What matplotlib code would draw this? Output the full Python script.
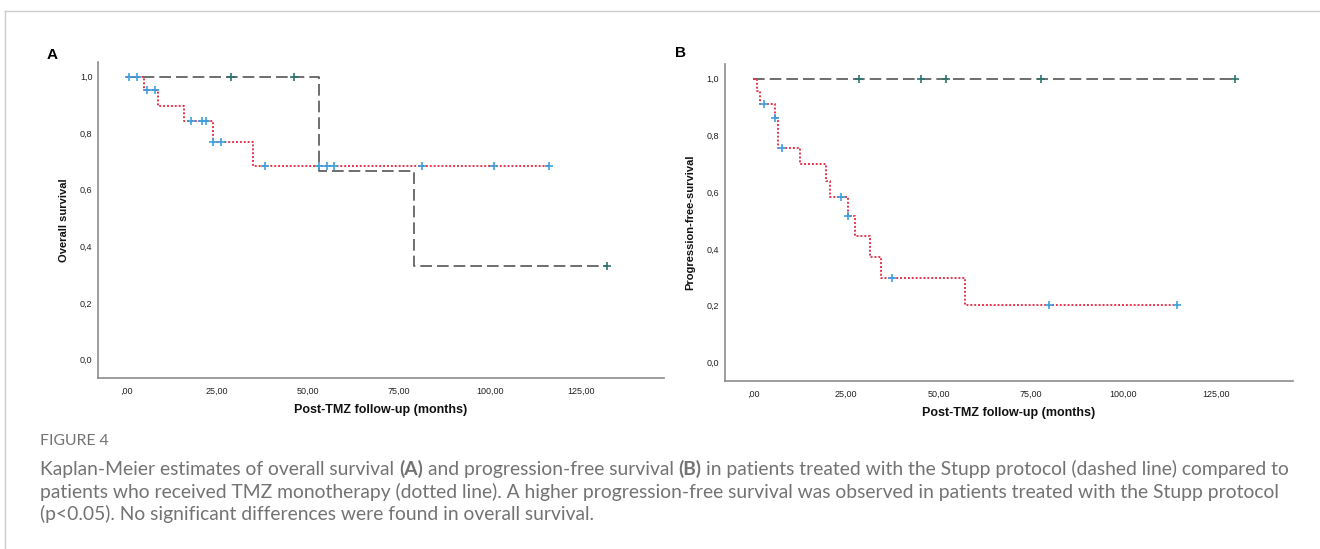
import numpy as np
import matplotlib
matplotlib.use('Agg')
import matplotlib.pyplot as plt
from matplotlib.lines import Line2D

# ---- data (months / cumulative survival) ----
# A: overall survival
os_tmz_times = [0, 4.9, 8.7, 15.9, 23.7, 34.9]
os_tmz_surv = [1.0, 0.953, 0.897, 0.842, 0.769, 0.684]
os_tmz_end = 116.3
os_tmz_cens = [0.8, 2.8, 5.8, 7.8, 17.9, 20.8, 21.8, 23.7, 25.9, 38.1,
               53.0, 55.1, 57.1, 81.2, 101.2, 116.3]

os_stupp_times = [0, 53.0, 79.2]
os_stupp_surv = [1.0, 0.666, 0.330]
os_stupp_end = 132.2
os_stupp_cens = [28.9, 46.1, 132.2]

# B: progression-free survival
pfs_tmz_times = [0, 0.9, 1.8, 5.9, 6.7, 12.6, 19.6, 20.6, 25.6, 27.5, 31.5, 34.4, 57.2]
pfs_tmz_surv = [1.0, 0.957, 0.910, 0.863, 0.756, 0.698, 0.641, 0.582,
                0.517, 0.444, 0.372, 0.298, 0.201]
pfs_tmz_end = 114.4
pfs_tmz_cens = [2.9, 5.9, 7.8, 23.6, 25.6, 37.4, 79.8, 114.4]

pfs_stupp_times = [0]
pfs_stupp_surv = [1.0]
pfs_stupp_end = 130.1
pfs_stupp_cens = [28.5, 45.2, 52.0, 77.6, 130.1]

x_ticks = [0, 25, 50, 75, 100, 125]
x_ticklabels = [',00', '25,00', '50,00', '75,00', '100,00', '125,00']
y_ticks = [0.0, 0.2, 0.4, 0.6, 0.8, 1.0]
y_ticklabels = ['0,0', '0,2', '0,4', '0,6', '0,8', '1,0']

RED = '#e8344e'
DARK = '#555555'
BLUE = '#3d9fe0'
TEAL = '#2b7470'
W, H = 1320, 549


def km_curve(ax, times, surv, end, cens, color, ls, mcolor, lw):
    t = list(times) + [end]
    s = list(surv) + [surv[-1]]
    ax.step(t, s, where='post', color=color, linestyle=ls, linewidth=lw,
            dash_capstyle='butt', zorder=2)
    # censor ticks sit on the curve at their time
    idx = np.searchsorted(times, cens, side='right') - 1
    ax.plot(cens, np.array(surv)[idx], linestyle='none', marker='+',
            markersize=5.5, markeredgewidth=1.2, color=mcolor, zorder=3)


def style_axes(ax, xlim, ylabel):
    ax.set_xlim(*xlim)
    ax.set_ylim(-0.066, 1.052)
    for side in ['top', 'right']:
        ax.spines[side].set_visible(False)
    for side in ['left', 'bottom']:
        ax.spines[side].set_color('#8c8c8c')
        ax.spines[side].set_linewidth(1.2)
    ax.set_xticks(x_ticks)
    ax.set_xticklabels(x_ticklabels)
    ax.set_yticks(y_ticks)
    ax.set_yticklabels(y_ticklabels)
    ax.tick_params(length=0, labelsize=6.5, labelcolor='#222222')
    ax.tick_params(axis='x', pad=6)
    ax.tick_params(axis='y', pad=4)
    ax.set_xlabel('Post-TMZ follow-up (months)', fontsize=9, fontweight='bold',
                  color='#111111', labelpad=6)
    ax.set_ylabel(ylabel, fontsize=8, fontweight='bold', color='#111111')
    ax.yaxis.set_label_coords(-0.052, 0.5)


plt.rcParams['font.family'] = ['Liberation Sans', 'DejaVu Sans']

fig = plt.figure(figsize=(W / 100, H / 100), dpi=100)

axA = fig.add_axes([98 / W, 1 - 378 / H, 566 / W, 316 / H])
axB = fig.add_axes([724.5 / W, 1 - 381 / H, 568.5 / W, 317 / H])

km_curve(axA, os_stupp_times, os_stupp_surv, os_stupp_end, os_stupp_cens,
         DARK, (0, (7, 3)), TEAL, 1.2)
km_curve(axA, os_tmz_times, os_tmz_surv, os_tmz_end, os_tmz_cens,
         RED, (0, (1, 1)), BLUE, 1.4)
style_axes(axA, (-7.8, 147.8), 'Overall survival')

km_curve(axB, pfs_stupp_times, pfs_stupp_surv, pfs_stupp_end, pfs_stupp_cens,
         DARK, (0, (7, 3)), TEAL, 1.2)
km_curve(axB, pfs_tmz_times, pfs_tmz_surv, pfs_tmz_end, pfs_tmz_cens,
         RED, (0, (1, 1)), BLUE, 1.4)
style_axes(axB, (-7.8, 145.8), 'Progression-free-survival')

fig.text(52 / W, 1 - 55 / H, 'A', fontsize=11, fontweight='bold', va='center', ha='center')
fig.text(681 / W, 1 - 53 / H, 'B', fontsize=11, fontweight='bold', va='center', ha='center')

# frame lines
fig.add_artist(Line2D([5 / W, 1], [1 - 11 / H, 1 - 11 / H], color='#cccccc', lw=1))
fig.add_artist(Line2D([5 / W, 5 / W], [0, 1 - 11 / H], color='#cccccc', lw=1))

# caption
CAP = '#737373'
cap_font = ['Lato', 'DejaVu Sans']
caption_lines = [
    [("Kaplan-Meier estimates of overall survival", 'normal'), ("(A)", 'bold'),
     ("and progression-free survival", 'normal'), ("(B)", 'bold'),
     ("in patients treated with the Stupp protocol (dashed line) compared to", 'normal')],
    [("patients who received TMZ monotherapy (dotted line). A higher progression-free "
      "survival was observed in patients treated with the Stupp protocol", 'normal')],
    [("(p<0.05). No significant differences were found in overall survival.", 'normal')],
]
caption_y = [469, 492, 514]

fig.canvas.draw()
renderer = fig.canvas.get_renderer()


def text_w(s, size, wt='normal'):
    t = fig.text(0, 0, s, fontsize=size, family=cap_font, fontweight=wt)
    w = t.get_window_extent(renderer).width
    t.remove()
    return w


# size the caption so the first line ends where the reference's does (~x=1292)
base = 12.0
first = ' '.join(r[0] for r in caption_lines[0])
cap_size = base * (1292 - 40) / text_w(first, base) * 0.993
space_w = text_w('x x', cap_size) - text_w('xx', cap_size)

fig.text(40 / W, 1 - 441 / H, 'FIGURE 4', fontsize=cap_size * 0.82, color=CAP,
         family=cap_font, va='center')

for runs, yy in zip(caption_lines, caption_y):
    x = 40.0
    for txt, wt in runs:
        t = fig.text(x / W, 1 - yy / H, txt, fontsize=cap_size, color=CAP,
                     family=cap_font, fontweight=wt, va='center')
        x += t.get_window_extent(renderer).width + space_w

fig.savefig('out.png', dpi=100)
plt.close(fig)
